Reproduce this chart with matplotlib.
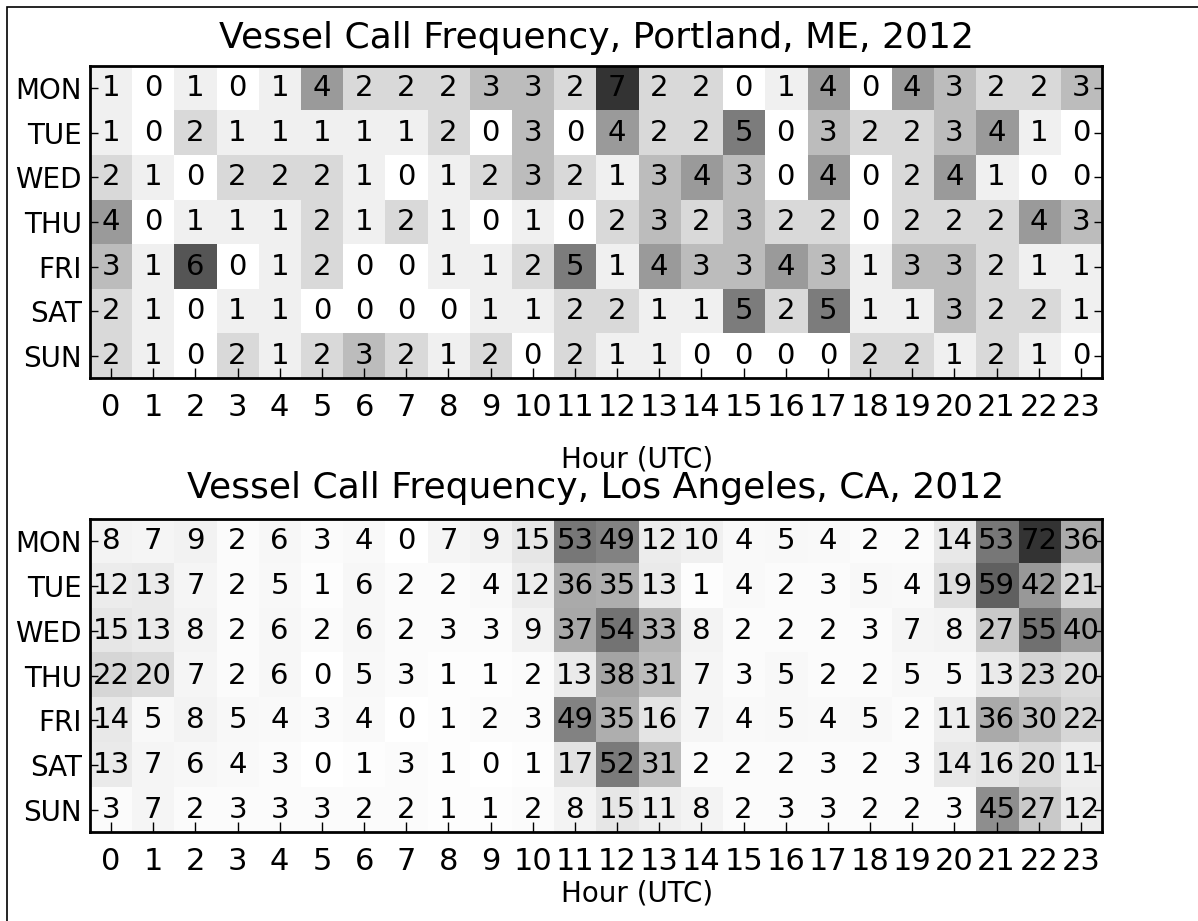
"""
Vessel call frequency heatmaps (hour of day vs. weekday) for two ports.
"""

import matplotlib
matplotlib.use('Agg')
import matplotlib.pyplot as plt
import numpy as np
from matplotlib.patches import Rectangle

days = ['MON', 'TUE', 'WED', 'THU', 'FRI', 'SAT', 'SUN']
hours = list(range(24))

portland_title = 'Vessel Call Frequency, Portland, ME, 2012'
portland_counts = [
    [1, 0, 1, 0, 1, 4, 2, 2, 2, 3, 3, 2, 7, 2, 2, 0, 1, 4, 0, 4, 3, 2, 2, 3],
    [1, 0, 2, 1, 1, 1, 1, 1, 2, 0, 3, 0, 4, 2, 2, 5, 0, 3, 2, 2, 3, 4, 1, 0],
    [2, 1, 0, 2, 2, 2, 1, 0, 1, 2, 3, 2, 1, 3, 4, 3, 0, 4, 0, 2, 4, 1, 0, 0],
    [4, 0, 1, 1, 1, 2, 1, 2, 1, 0, 1, 0, 2, 3, 2, 3, 2, 2, 0, 2, 2, 2, 4, 3],
    [3, 1, 6, 0, 1, 2, 0, 0, 1, 1, 2, 5, 1, 4, 3, 3, 4, 3, 1, 3, 3, 2, 1, 1],
    [2, 1, 0, 1, 1, 0, 0, 0, 0, 1, 1, 2, 2, 1, 1, 5, 2, 5, 1, 1, 3, 2, 2, 1],
    [2, 1, 0, 2, 1, 2, 3, 2, 1, 2, 0, 2, 1, 1, 0, 0, 0, 0, 2, 2, 1, 2, 1, 0],
]

la_title = 'Vessel Call Frequency, Los Angeles, CA, 2012'
la_counts = [
    [8, 7, 9, 2, 6, 3, 4, 0, 7, 9, 15, 53, 49, 12, 10, 4, 5, 4, 2, 2, 14, 53, 72, 36],
    [12, 13, 7, 2, 5, 1, 6, 2, 2, 4, 12, 36, 35, 13, 1, 4, 2, 3, 5, 4, 19, 59, 42, 21],
    [15, 13, 8, 2, 6, 2, 6, 2, 3, 3, 9, 37, 54, 33, 8, 2, 2, 2, 3, 7, 8, 27, 55, 40],
    [22, 20, 7, 2, 6, 0, 5, 3, 1, 1, 2, 13, 38, 31, 7, 3, 5, 2, 2, 5, 5, 13, 23, 20],
    [14, 5, 8, 5, 4, 3, 4, 0, 1, 2, 3, 49, 35, 16, 7, 4, 5, 4, 5, 2, 11, 36, 30, 22],
    [13, 7, 6, 4, 3, 0, 1, 3, 1, 0, 1, 17, 52, 31, 2, 2, 2, 3, 2, 3, 14, 16, 20, 11],
    [3, 7, 2, 3, 3, 3, 2, 2, 1, 1, 2, 8, 15, 11, 8, 2, 3, 3, 2, 2, 3, 45, 27, 12],
]


def draw_heatmap(ax, counts, title, title_pad, label_pad):
    data = np.array(counts)
    ax.imshow(data, cmap='Greys', alpha=0.8, aspect='auto',
              interpolation='nearest', vmin=0, vmax=data.max())
    for i in range(data.shape[0]):
        for j in range(data.shape[1]):
            ax.text(j, i, str(data[i, j]), ha='center', va='center',
                    fontsize=21, color='black')
    ax.set_xticks(range(len(hours)))
    ax.set_xticklabels([str(h) for h in hours])
    ax.set_yticks(range(len(days)))
    ax.set_yticklabels(days)
    ax.tick_params(axis='x', direction='in', length=7, width=1,
                   labelsize=22, pad=11, top=False, bottom=True)
    ax.tick_params(axis='y', direction='in', length=6, width=1,
                   labelsize=20, pad=6, left=True, right=True)
    for s in ax.spines.values():
        s.set_linewidth(2)
    ax.set_title(title, fontsize=26, pad=title_pad)
    ax.set_xlabel('Hour (UTC)', fontsize=20, labelpad=label_pad, x=0.541)


fig = plt.figure(figsize=(11.98, 9.21), dpi=100)
ax_top = fig.add_axes([0.0751, 0.5896, 0.8448, 0.3387])
ax_bot = fig.add_axes([0.0751, 0.0966, 0.8448, 0.3399])

draw_heatmap(ax_top, portland_counts, portland_title, 13, 17)
draw_heatmap(ax_bot, la_counts, la_title, 15, 2.5)

# frame around the whole picture (right and bottom edges fall off the image)
fig.patches.append(Rectangle((7 / 1198, -0.05), 1.1, 1.05 - 7 / 921,
                             transform=fig.transFigure, fill=False,
                             edgecolor='black', linewidth=1.2))

fig.savefig('out.png', dpi=100)
